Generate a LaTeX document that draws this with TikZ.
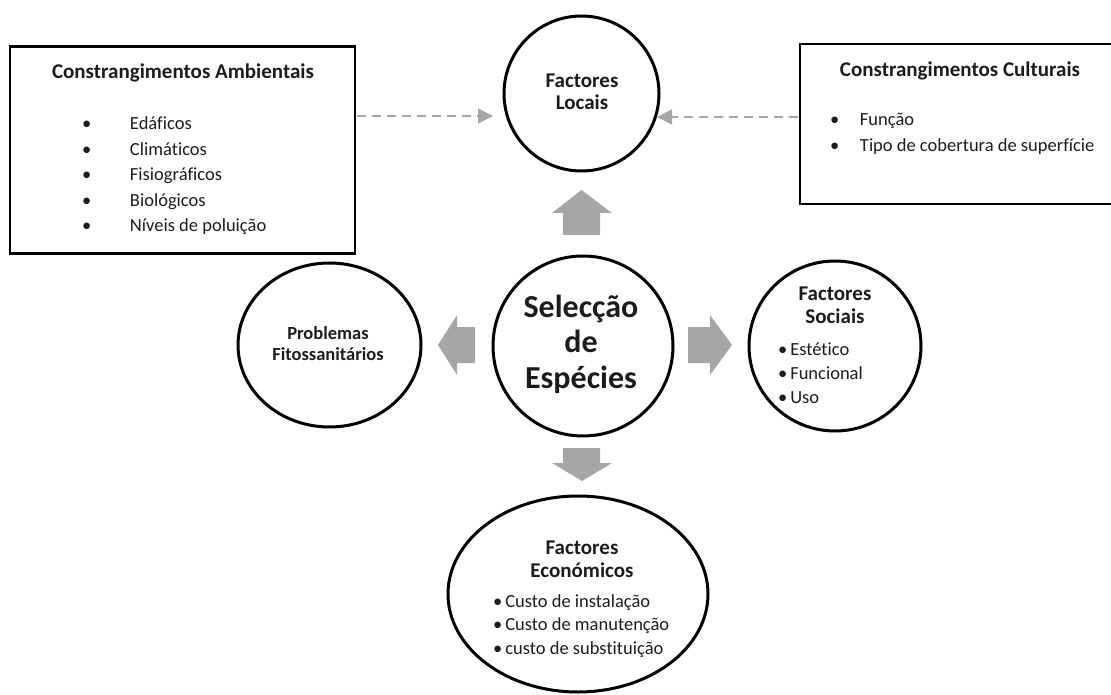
\documentclass[tikz,border=0pt]{standalone}
\usepackage{fontspec}
\setmainfont{Carlito}[Ligatures=NoCommon]
\usetikzlibrary{arrows.meta,shapes.geometric}
\definecolor{ink}{RGB}{28,28,28}
\definecolor{arrowgray}{RGB}{166,166,166}
\begin{document}
\begin{tikzpicture}[x=1pt,y=-1pt,
  every node/.style={inner sep=0pt,outer sep=0pt,text=ink},
  framebox/.style={draw=black,line width=2.5pt,rectangle},
  bubble/.style={draw=black,line width=3pt,circle},
  oval/.style={draw=black,line width=3pt,ellipse},
  headline/.style={font=\bfseries\fontsize{21}{22.5}\selectfont,align=center,anchor=base},
  bigtitle/.style={font=\bfseries\fontsize{32}{35.5}\selectfont,align=center,anchor=base},
  listtext/.style={font=\fontsize{18.5}{24}\selectfont,anchor=base west},
  dasharrow/.style={draw=arrowgray,line width=1.5pt,dash pattern=on 9pt off 6pt,
    -{Triangle[length=15pt,width=15pt,fill=arrowgray,sep=0pt]}},
  blockarrow/.style={fill=arrowgray,draw=none}]
\useasboundingbox (0,0) rectangle (1111,695);

% outer constraint boxes
\node[framebox,minimum width=345pt,minimum height=207pt] (amb) at (182.5,150) {};
\node[framebox,minimum width=316pt,minimum height=160pt] (cul) at (958,124) {};

% bubbles
\node[bubble,minimum size=155pt] (loc) at (581.5,93.5) {};
\node[bubble,minimum size=180pt] (sel) at (583,346) {};
\node[oval,minimum width=183pt,minimum height=164pt] (prob) at (329.5,345) {};
\node[oval,minimum width=172pt,minimum height=170pt] (soc) at (835,346) {};
\node[oval,minimum width=260pt,minimum height=196pt] (eco) at (578,594) {};

% texts of the boxes
\node[headline] (ambT) at (183,79) {Constrangimentos Ambientais};
\node[listtext,font=\fontsize{18.5}{25.5}\selectfont] (ambL) at (82,130)
  {\begin{tabular}[t]{@{}l@{}}
   \makebox[48pt][l]{•}Edáficos\\
   \makebox[48pt][l]{•}Climáticos\\
   \makebox[48pt][l]{•}Fisiográficos\\
   \makebox[48pt][l]{•}Biológicos\\
   \makebox[48pt][l]{•}Níveis de poluição
   \end{tabular}};
\node[headline] (culT) at (960,77) {Constrangimentos Culturais};
\node[listtext,font=\fontsize{18.5}{26}\selectfont] (culL) at (830,126)
  {\begin{tabular}[t]{@{}l@{}}
   \makebox[30pt][l]{•}Função\\
   \makebox[30pt][l]{•}Tipo de cobertura de superfície
   \end{tabular}};

% texts of the bubbles (base = baseline of the last line)
\node[headline] (locT) at (582,110) {Factores\\Locais};
\node[bigtitle] (selT) at (581,388) {Selecção\\de\\Espécies};
\node[headline,font=\bfseries\fontsize{18.5}{21}\selectfont] (probT) at (328,360) {Problemas\\Fitossanitários};
\node[headline] (socT) at (835,323) {Factores\\Sociais};
\node[listtext,font=\fontsize{18.5}{24}\selectfont] (socL) at (778,355)
  {\begin{tabular}[t]{@{}l@{}}
   •\,Estético\\
   •\,Funcional\\
   •\,Uso
   \end{tabular}};
\node[headline] (ecoT) at (582,577) {Factores\\Económicos};
\node[listtext,font=\fontsize{18.5}{23.5}\selectfont] (ecoL) at (493,607)
  {\begin{tabular}[t]{@{}l@{}}
   •\,Custo de instalação\\
   •\,Custo de manutenção\\
   •\,custo de substituição
   \end{tabular}};

% dashed links into the local factors
\draw[dasharrow,shorten <=2pt,shorten >=11pt] (amb.east |- 0,116) -- (loc.west |- 0,116);
\draw[dasharrow,shorten <=2pt,shorten >=-2pt] (cul.west |- 0,117) -- (loc.east |- 0,117);

% block arrows around the central bubble
\fill[blockarrow] (563,235) -- (563,213) -- (552,213) -- (581.5,190) -- (612,213) -- (600,213) -- (600,235) -- cycle;
\fill[blockarrow] (563,448) -- (600,448) -- (600,463) -- (612,463) -- (582,481) -- (552,463) -- (563,463) -- cycle;
\fill[blockarrow] (475,327) -- (457,327) -- (457,315) -- (438,345) -- (457,375) -- (457,363) -- (475,363) -- cycle;
\fill[blockarrow] (688,327) -- (710,327) -- (710,315) -- (732,345) -- (710,375) -- (710,363) -- (688,363) -- cycle;
\end{tikzpicture}
\end{document}
